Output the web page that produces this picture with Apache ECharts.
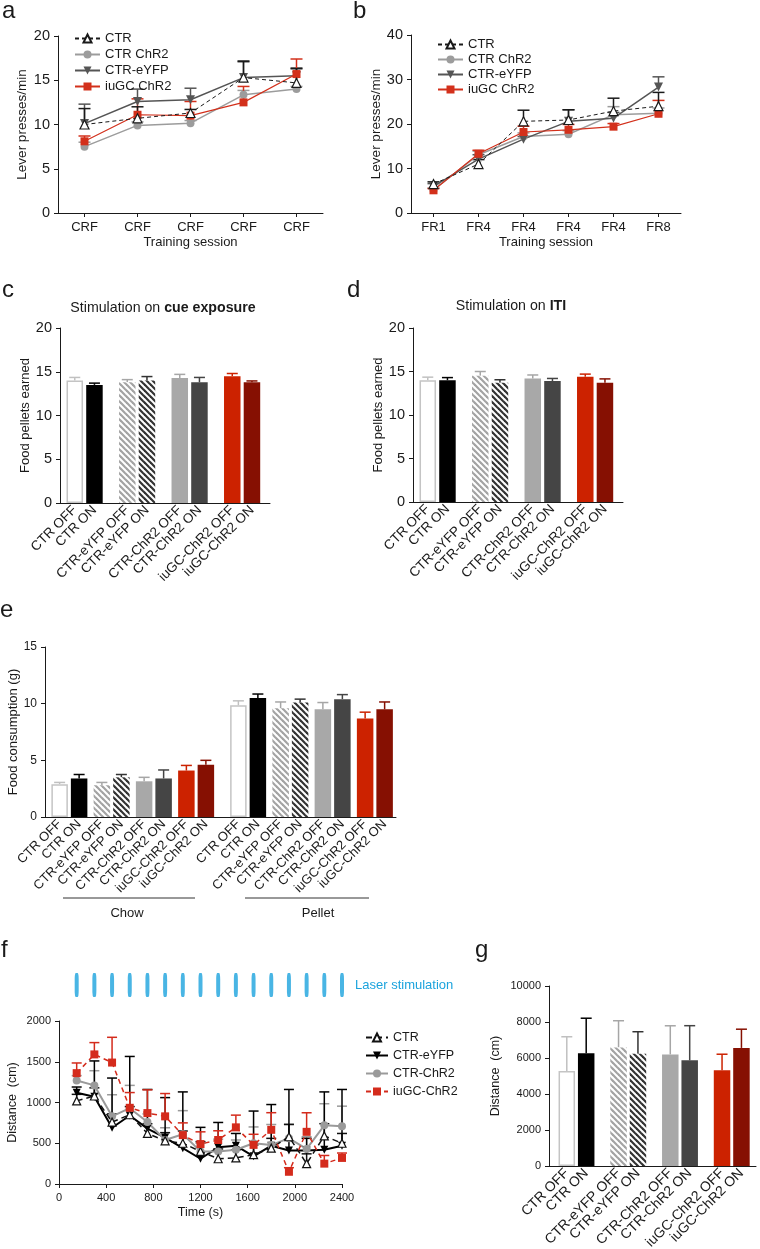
<!DOCTYPE html>
<html><head><meta charset="utf-8">
<script src="https://cdn.jsdelivr.net/npm/echarts@6/dist/echarts.min.js"></script>
<style>html,body{margin:0;padding:0;background:#fff}#chart{width:760px;height:1249px}</style>
</head><body><div id="chart"></div>
<script>
// ================= DATA =================
// Panel a
const sessionsA = ['CRF','CRF','CRF','CRF','CRF'];
const aCTR = [10.0, 10.7, 11.3, 15.3, 14.7];
const aCTRerr = [1.8, 1.3, 0.4, 1.8, 1.6];
const aCTRChR2 = [7.5, 9.9, 10.15, 13.35, 14.0];
const aCTRChR2err = [0.5, 0.4, 0.3, 0.5, 0.3];
const aEYFP = [10.1, 12.6, 12.8, 15.3, 15.5];
const aEYFPerr = [2.2, 1.4, 1.3, 1.9, 0.9];
const aIuGC = [8.1, 11.1, 11.0, 12.5, 15.7];
const aIuGCerr = [0.6, 1.8, 1.6, 1.8, 1.7];
// Panel b
const sessionsB = ['FR1','FR4','FR4','FR4','FR4','FR8'];
const bCTR = [6.5, 11.0, 20.6, 20.9, 22.9, 24.0];
const bCTRerr = [0.5, 1.0, 2.5, 2.3, 2.9, 3.1];
const bCTRChR2 = [5.2, 13.1, 17.2, 17.7, 22.1, 22.4];
const bCTRChR2err = [0.4, 0.8, 0.8, 0.8, 1.8, 1.2];
const bEYFP = [6.0, 12.1, 16.6, 20.6, 21.3, 28.3];
const bEYFPerr = [0.6, 1.0, 0.6, 2.6, 1.3, 2.3];
const bIuGC = [5.1, 13.3, 18.2, 18.7, 19.4, 22.3];
const bIuGCerr = [0.4, 0.8, 1.3, 1.2, 0.7, 3.0];
// Bar labels (c, d, e, g)
const barLabels = ['CTR OFF','CTR ON','CTR-eYFP OFF','CTR-eYFP ON','CTR-ChR2 OFF','CTR-ChR2 ON','iuGC-ChR2 OFF','iuGC-ChR2 ON'];
// Panel c: cue exposure
const cueMean = [14.0, 13.5, 13.8, 14.0, 14.3, 13.8, 14.5, 13.8];
const cueSem  = [0.35, 0.2, 0.3, 0.45, 0.4, 0.55, 0.3, 0.15];
// Panel d: ITI
const itiMean = [14.0, 14.0, 14.5, 13.7, 14.2, 13.9, 14.4, 13.7];
const itiSem  = [0.35, 0.3, 0.5, 0.35, 0.4, 0.3, 0.3, 0.45];
// Panel e
const chowMean = [2.9, 3.4, 2.8, 3.5, 3.15, 3.4, 4.1, 4.6];
const chowSem  = [0.15, 0.35, 0.25, 0.25, 0.35, 0.75, 0.45, 0.4];
const pelletMean = [9.85, 10.5, 9.6, 10.1, 9.5, 10.4, 8.7, 9.5];
const pelletSem  = [0.4, 0.35, 0.55, 0.3, 0.6, 0.4, 0.55, 0.65];
const groupNamesE = ['Chow','Pellet'];
// Panel f
const timeF = [150,300,450,600,750,900,1050,1200,1350,1500,1650,1800,1950,2100,2250,2400];
const laserTimes = [150,300,450,600,750,900,1050,1200,1350,1500,1650,1800,1950,2100,2250,2400];
const fCTR = [1020,1080,760,850,620,530,500,400,310,320,360,440,580,250,590,500];
const fCTRerr = [80,100,100,100,120,100,150,120,120,100,120,120,150,120,150,120];
const fEYFP = [1120,1070,690,840,680,570,440,310,450,470,340,470,410,410,420,470];
const fEYFPerr = [70,440,610,725,480,490,690,385,305,150,555,505,750,150,710,690];
const fChR2 = [1270,1210,830,930,760,540,610,400,400,420,500,480,560,430,720,710];
const fChR2err = [60,180,265,280,100,150,290,100,150,120,200,250,175,150,265,245];
const fIuGC = [1360,1590,1490,935,870,830,600,490,540,695,480,665,150,640,250,320];
const fIuGCerr = [125,145,310,187,285,280,150,150,113,150,130,210,50,234,100,60];
// Panel g
const ofMean = [5280, 6260, 6590, 6240, 6200, 5870, 5320, 6560];
const ofSem  = [1900, 1950, 1480, 1220, 1590, 1925, 890, 1040];

// ================= STYLE =================
const FONT = "'Liberation Sans', Arial, sans-serif";
const INK = '#1a1a1a';
const RED = '#d3301b';

function hatch(stripe) {
  const cv = document.createElement('canvas');
  cv.width = 6; cv.height = 6;
  const ctx = cv.getContext('2d');
  ctx.fillStyle = '#fff'; ctx.fillRect(0,0,6,6);
  ctx.strokeStyle = stripe; ctx.lineWidth = 2.2;
  for (const k of [-6, 0, 6]) { ctx.beginPath(); ctx.moveTo(k-1,-1); ctx.lineTo(k+7,7); ctx.stroke(); }
  return {image: cv, repeat: 'repeat'};
}
const barFill   = ['#ffffff', '#000000', hatch('#a3a3a3'), hatch('#333333'), '#a8a8a8', '#454545', '#cc2200', '#861002'];
const barBorder = ['#c4c4c4', '#000000', '#ffffff', '#ffffff', '#a8a8a8', '#454545', '#cc2200', '#861002'];
const barBorderW = [1.5, 0, 0, 0, 0, 0, 0, 0];
const errColor  = ['#c0c0c0', '#000000', '#a6a6a6', '#333333', '#a6a6a6', '#444444', '#cc2200', '#861002'];

// ================= HELPERS =================
const plain = v => String(v);
function axisCommon(fs) {
  return {
    axisLine: {show: true, lineStyle: {color: INK, width: 1}},
    axisTick: {show: true, length: 4, lineStyle: {color: INK, width: 1}},
    axisLabel: {color: INK, fontFamily: FONT, fontSize: fs},
    splitLine: {show: false},
    nameTextStyle: {color: INK, fontFamily: FONT, fontSize: 13}
  };
}
function yVal(gi, min, max, interval, name, gap, fs) {
  const a = Object.assign(axisCommon(fs), {gridIndex: gi, type: 'value', min, max, interval,
    name, nameLocation: 'middle', nameGap: gap});
  a.axisLabel.formatter = plain;
  return a;
}
function xCat(gi, data, fs, opts) {
  const a = Object.assign(axisCommon(fs), {gridIndex: gi, type: 'category', data, boundaryGap: true});
  a.axisTick.alignWithLabel = true;
  return Object.assign(a, opts || {});
}
function slotCats(total, slots, labels) {
  const cats = new Array(total).fill('');
  slots.forEach((s, i) => { cats[s] = labels[i % labels.length]; });
  return cats;
}
function pairSlots(starts, within) {
  const out = [];
  starts.forEach(s => { out.push(s, s + within); });
  return out;
}
function barSeries(gi, total, slots, values) {
  const data = new Array(total).fill('-');
  slots.forEach((s, i) => {
    const k = i % 8;
    data[s] = {value: values[i], itemStyle: {color: barFill[k], borderColor: barBorder[k], borderWidth: barBorderW[k]}};
  });
  return {type: 'bar', xAxisIndex: gi, yAxisIndex: gi, data, barWidth: 16.5, silent: true, z: 2};
}
function errRender(capW, lw, colorOf) {
  return function (params, api) {
    const x = api.value(0), y = api.value(1), e = api.value(2), k = api.value(3);
    const p0 = api.coord([x, y]), p1 = api.coord([x, y + e]);
    const col = colorOf(k);
    return {type: 'group', children: [
      {type: 'line', shape: {x1: p0[0], y1: p0[1], x2: p1[0], y2: p1[1]}, style: {stroke: col, lineWidth: lw}},
      {type: 'line', shape: {x1: p1[0] - capW / 2, y1: p1[1], x2: p1[0] + capW / 2, y2: p1[1]}, style: {stroke: col, lineWidth: lw}}
    ]};
  };
}
function barErr(gi, slots, means, sems) {
  return {type: 'custom', xAxisIndex: gi, yAxisIndex: gi, silent: true, z: 1,
    data: slots.map((s, i) => [s, means[i], sems[i], i % 8]),
    renderItem: errRender(11, 1.5, k => errColor[k])};
}
function lineErr(gi, xs, means, errs, color, capW, lw, z) {
  return {type: 'custom', xAxisIndex: gi, yAxisIndex: gi, silent: true, z: z || 1,
    data: means.map((m, i) => [xs[i], m, errs[i], 0]),
    renderItem: errRender(capW, lw, () => color)};
}
function lineSeries(name, gi, data, st) {
  return {type: 'line', name, xAxisIndex: gi, yAxisIndex: gi, data,
    symbol: st.symbol, symbolSize: st.size, symbolRotate: st.rot || 0, color: st.color,
    itemStyle: {color: st.empty ? '#fff' : st.color, borderColor: st.color, borderWidth: st.empty ? 1.2 : 0},
    lineStyle: {color: st.color, width: st.width, type: st.dash || 'solid'},
    silent: true, z: st.z || 3};
}
const stAB = {
  CTR:  {symbol: 'triangle', size: 9, color: '#1a1a1a', empty: true, width: 1, dash: [4, 3], z: 4},
  CHR2: {symbol: 'circle', size: 8, color: '#9c9c9c', width: 1.5},
  EYFP: {symbol: 'triangle', rot: 180, size: 9, color: '#555555', width: 1.5},
  IUGC: {symbol: 'rect', size: 8, color: RED, width: 1.2}
};
const stF = {
  CTR:  {symbol: 'triangle', size: 8, color: '#111', empty: true, width: 1.5, dash: [6, 4], z: 4},
  EYFP: {symbol: 'triangle', rot: 180, size: 8, color: '#000', width: 2},
  CHR2: {symbol: 'circle', size: 8, color: '#9a9a9a', width: 2},
  IUGC: {symbol: 'rect', size: 8, color: '#d42b1c', width: 1.5, dash: [5, 4], z: 5}
};

// slot layouts
const slotsCD = pairSlots([4, 20, 36, 52], 6);    // 64 slots
const slotsG  = pairSlots([5, 21, 37, 53], 6);    // 64 slots
const slotsE  = pairSlots([4, 17, 30, 43, 59, 72, 85, 98], 6); // 108 slots
const valuesE = chowMean.concat(pelletMean);
const semsE = chowSem.concat(pelletSem);
const catsC = slotCats(64, slotsCD, barLabels);
const catsG = slotCats(64, slotsG, barLabels);
const catsE = slotCats(108, slotsE, barLabels);

const slotAxisOpts = fs => ({axisTick: {show: false}, axisLabel: {color: INK, fontFamily: FONT, fontSize: fs, interval: 0, rotate: 45, margin: 5}});

const idx5 = sessionsA.map((_, i) => i);
const idx6 = sessionsB.map((_, i) => i);
const pairs = (xs, ys) => ys.map((v, i) => [xs[i], v]);

const grids = [
  {left: 58, top: 36, width: 265, height: 177},
  {left: 411, top: 35, width: 270, height: 178},
  {left: 60, top: 328, width: 210, height: 175},
  {left: 413, top: 328, width: 210, height: 174},
  {left: 45, top: 647, width: 351, height: 170},
  {left: 59, top: 973, width: 283, height: 24},
  {left: 59, top: 1021, width: 283, height: 163},
  {left: 549, top: 986, width: 207, height: 180}
].map(g => Object.assign({containLabel: false, outerBoundsMode: 'none'}, g));

const xF = Object.assign(axisCommon(11), {gridIndex: 6, type: 'value', min: 0, max: 2400, interval: 400,
  name: 'Time (s)', nameLocation: 'middle', nameGap: 22});
xF.axisLabel.formatter = plain;
xF.nameTextStyle.fontSize = 12.5;
const xAxes = [
  xCat(0, sessionsA, 13, {name: 'Training session', nameLocation: 'middle', nameGap: 23}),
  xCat(1, sessionsB, 13, {name: 'Training session', nameLocation: 'middle', nameGap: 23}),
  xCat(2, catsC, 13, slotAxisOpts(13.5)),
  xCat(3, catsC, 13, slotAxisOpts(13.5)),
  xCat(4, catsE, 13, slotAxisOpts(13)),
  {gridIndex: 5, type: 'value', min: 0, max: 2400, show: false},
  xF,
  xCat(7, catsG, 13, slotAxisOpts(14))
];
const yAxes = [
  yVal(0, 0, 20, 5, 'Lever presses/min', 29, 14.5),
  yVal(1, 0, 40, 10, 'Lever presses/min', 26, 14.5),
  yVal(2, 0, 20, 5, 'Food pellets earned', 24, 14.5),
  yVal(3, 0, 20, 5, 'Food pellets earned', 22, 14.5),
  yVal(4, 0, 15, 5, 'Food consumption (g)', 20, 12),
  {gridIndex: 5, type: 'value', min: 0, max: 1, show: false},
  yVal(6, 0, 2000, 500, 'Distance  (cm)', 40, 11),
  yVal(7, 0, 10000, 2000, 'Distance  (cm)', 47, 11)
];
yAxes[0].nameTextStyle.fontSize = 13.5;
yAxes[1].nameTextStyle.fontSize = 13.5;
yAxes[6].nameTextStyle.fontSize = 12.5;
yAxes[7].nameTextStyle.fontSize = 12.5;

const series = [
  // a
  lineErr(0, idx5, aCTRChR2, aCTRChR2err, stAB.CHR2.color, 12, 1.5),
  lineErr(0, idx5, aEYFP, aEYFPerr, stAB.EYFP.color, 12, 1.5),
  lineErr(0, idx5, aIuGC, aIuGCerr, stAB.IUGC.color, 12, 1.5),
  lineErr(0, idx5, aCTR, aCTRerr, stAB.CTR.color, 12, 1.5),
  lineSeries('CTR', 0, aCTR, stAB.CTR),
  lineSeries('CTR ChR2', 0, aCTRChR2, stAB.CHR2),
  lineSeries('CTR-eYFP', 0, aEYFP, stAB.EYFP),
  lineSeries('iuGC ChR2', 0, aIuGC, stAB.IUGC),
  // b
  lineErr(1, idx6, bCTRChR2, bCTRChR2err, stAB.CHR2.color, 12, 1.5),
  lineErr(1, idx6, bEYFP, bEYFPerr, stAB.EYFP.color, 12, 1.5),
  lineErr(1, idx6, bIuGC, bIuGCerr, stAB.IUGC.color, 12, 1.5),
  lineErr(1, idx6, bCTR, bCTRerr, stAB.CTR.color, 12, 1.5),
  lineSeries('CTR#b', 1, bCTR, stAB.CTR),
  lineSeries('CTR ChR2#b', 1, bCTRChR2, stAB.CHR2),
  lineSeries('CTR-eYFP#b', 1, bEYFP, stAB.EYFP),
  lineSeries('iuGC ChR2#b', 1, bIuGC, stAB.IUGC),
  // c, d
  barErr(2, slotsCD, cueMean, cueSem), barSeries(2, 64, slotsCD, cueMean),
  barErr(3, slotsCD, itiMean, itiSem), barSeries(3, 64, slotsCD, itiMean),
  // e
  barErr(4, slotsE, valuesE, semsE), barSeries(4, 108, slotsE, valuesE),
  // f laser
  {type: 'scatter', xAxisIndex: 5, yAxisIndex: 5, silent: true, symbol: 'roundRect', symbolSize: [4, 24],
    itemStyle: {color: '#1ba3dd'}, data: laserTimes.map(t => [t, 0.5])},
  // f
  lineErr(6, timeF, fChR2, fChR2err, stF.CHR2.color, 10, 1.5),
  lineErr(6, timeF, fCTR, fCTRerr, stF.CTR.color, 10, 1.5),
  lineErr(6, timeF, fEYFP, fEYFPerr, stF.EYFP.color, 10, 1.5),
  lineErr(6, timeF, fIuGC, fIuGCerr, stF.IUGC.color, 10, 1.5, 2),
  lineSeries('CTR#f', 6, pairs(timeF, fCTR), stF.CTR),
  lineSeries('CTR-eYFP#f', 6, pairs(timeF, fEYFP), stF.EYFP),
  lineSeries('CTR-ChR2#f', 6, pairs(timeF, fChR2), stF.CHR2),
  lineSeries('iuGC-ChR2#f', 6, pairs(timeF, fIuGC), stF.IUGC),
  // g
  barErr(7, slotsG, ofMean, ofSem), barSeries(7, 64, slotsG, ofMean)
];

const legendBase = {orient: 'vertical', selectedMode: false, itemWidth: 25, itemHeight: 10,
  textStyle: {fontFamily: FONT, fontSize: 13, color: INK}, formatter: n => n.split('#')[0]};
const legends = [
  Object.assign({}, legendBase, {left: 69, top: 27, itemGap: 3, data: ['CTR', 'CTR ChR2', 'CTR-eYFP', 'iuGC ChR2']}),
  Object.assign({}, legendBase, {left: 432, top: 33, itemGap: 2, data: ['CTR#b', 'CTR ChR2#b', 'CTR-eYFP#b', 'iuGC ChR2#b']}),
  Object.assign({}, legendBase, {left: 360, top: 1026, itemGap: 5, itemWidth: 22,
    textStyle: {fontFamily: FONT, fontSize: 12.5, color: INK}, data: ['CTR#f', 'CTR-eYFP#f', 'CTR-ChR2#f', 'iuGC-ChR2#f']})
];

function txt(text, x, y, size, opts) {
  return {type: 'text', x, y, silent: true, style: Object.assign({text, fontFamily: FONT, fontSize: size, fill: INK,
    align: 'left', verticalAlign: 'middle', textAlign: 'left', textVerticalAlign: 'middle'}, opts || {})};
}
const boldRich = {b: {fontWeight: 'bold', fontSize: 14.2, fontFamily: FONT, fill: INK}};
const graphics = [
  txt('a', 2, 11, 24), txt('b', 353, 11, 24), txt('c', 2, 290, 24), txt('d', 347, 290, 24),
  txt('e', 0, 610, 24), txt('f', 1, 950, 24), txt('g', 475, 950, 24),
  txt('Stimulation on {b|cue exposure}', 163, 308, 14.2, {align: 'center', textAlign: 'center', rich: boldRich}),
  txt('Stimulation on {b|ITI}', 511, 306, 14.2, {align: 'center', textAlign: 'center', rich: boldRich}),
  txt('Laser stimulation', 355, 985, 13, {fill: '#1ba3dd'}),
  {type: 'line', silent: true, shape: {x1: 63, y1: 898, x2: 195, y2: 898}, style: {stroke: '#333', lineWidth: 1}},
  {type: 'line', silent: true, shape: {x1: 245, y1: 898, x2: 369, y2: 898}, style: {stroke: '#333', lineWidth: 1}},
  txt(groupNamesE[0], 127, 913, 13, {align: 'center', textAlign: 'center'}),
  txt(groupNamesE[1], 318, 913, 13, {align: 'center', textAlign: 'center'})
];

const chart = echarts.init(document.getElementById('chart'), null, {renderer: 'canvas'});
chart.setOption({
  animation: false,
  backgroundColor: '#fff',
  textStyle: {fontFamily: FONT},
  grid: grids, xAxis: xAxes, yAxis: yAxes, legend: legends, series, graphic: graphics
});
</script>
</body></html>
